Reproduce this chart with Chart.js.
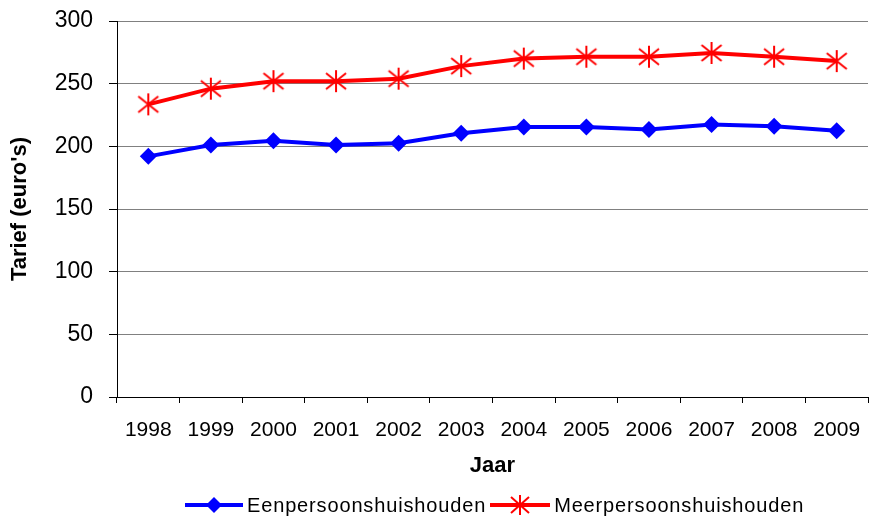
<!DOCTYPE html>
<html>
<head>
<meta charset="utf-8">
<script src="https://cdn.jsdelivr.net/npm/chart.js@4.4.0/dist/chart.umd.min.js"></script>
<style>
  html, body { margin: 0; padding: 0; background: #fff; }
  #wrap { position: relative; width: 869px; height: 519px; }
  #legend {
    position: absolute; left: 185px; top: 493px; height: 24px;
    display: flex; align-items: center;
    font-family: "Liberation Sans", Arial, sans-serif; font-size: 20px; letter-spacing: 0.85px; color: #000;
  }
  #legend svg { display: block; }
  #legend .txt { margin-left: 4px; margin-right: 4px; }
</style>
</head>
<body>
<div id="wrap">
  <canvas id="chart" width="869" height="519"></canvas>
  <div id="legend">
    <svg width="58" height="20"><line x1="0" y1="10" x2="58" y2="10" stroke="#0000ff" stroke-width="4"/><polygon points="29,2 37,10 29,18 21,10" fill="#0000ff"/></svg>
    <span class="txt">Eenpersoonshuishouden</span>
    <svg width="60" height="22"><line x1="0" y1="11" x2="60" y2="11" stroke="#ff0000" stroke-width="4"/><g stroke="#ff0000" stroke-width="2"><line x1="30" y1="1" x2="30" y2="21"/><line x1="21" y1="3" x2="39" y2="19"/><line x1="39" y1="3" x2="21" y2="19"/></g></svg>
    <span class="txt">Meerpersoonshuishouden</span>
  </div>
</div>
<script>
// data
const years = ['1998', '1999', '2000', '2001', '2002', '2003', '2004', '2005', '2006', '2007', '2008', '2009'];
const eenpersoons = [192, 201, 204.5, 201, 202.5, 210.5, 215.5, 215.5, 213.5, 217.5, 216, 212.5];
const meerpersoons = [233.5, 246, 252, 252, 254, 264, 270, 271.5, 271.5, 274.5, 271.5, 268];
const yMin = 0, yMax = 300, yStep = 50;

const FONT = '"Liberation Sans", Arial, sans-serif';

// asterisk-like star marker (vertical line + X)
function makeStar(color) {
  const c = document.createElement('canvas');
  c.width = 24; c.height = 24;
  const g = c.getContext('2d');
  g.strokeStyle = color;
  g.lineWidth = 2;
  g.beginPath();
  g.moveTo(12, 1); g.lineTo(12, 23);
  g.moveTo(2, 4); g.lineTo(22, 20);
  g.moveTo(22, 4); g.lineTo(2, 20);
  g.stroke();
  return c;
}

new Chart(document.getElementById('chart'), {
  type: 'line',
  data: {
    labels: years,
    datasets: [
      {
        label: 'Eenpersoonshuishouden',
        data: eenpersoons,
        borderColor: '#0000ff',
        backgroundColor: '#0000ff',
        borderWidth: 4,
        pointStyle: 'rectRot',
        pointRadius: 8.5,
        pointBorderWidth: 0,
        tension: 0
      },
      {
        label: 'Meerpersoonshuishouden',
        data: meerpersoons,
        borderColor: '#ff0000',
        backgroundColor: '#ff0000',
        borderWidth: 4,
        pointStyle: makeStar('#ff0000'),
        pointRadius: 11,
        tension: 0
      }
    ]
  },
  options: {
    responsive: false,
    animation: false,
    devicePixelRatio: 1,
    layout: { autoPadding: false, padding: { left: 0, right: 1, top: 21, bottom: 40 } },
    plugins: {
      legend: { display: false },
      tooltip: { enabled: false }
    },
    scales: {
      x: {
        offset: true,
        grid: { offset: true, drawOnChartArea: false, tickLength: 6, tickColor: '#000', color: '#000' },
        border: { color: '#000', width: 1 },
        ticks: { color: '#000', font: { family: FONT, size: 21 }, padding: 15, maxRotation: 0, autoSkip: false },
        title: { display: true, text: 'Jaar', color: '#000', font: { family: FONT, size: 22, weight: 'bold' }, padding: 0 },
        afterFit: function(scale) {
          scale.height = 82;
          scale.paddingLeft = 0;
          scale.paddingRight = 0;
        }
      },
      y: {
        min: yMin,
        max: yMax,
        ticks: { stepSize: yStep, color: '#000', font: { family: FONT, size: 23 }, padding: 16 },
        grid: { color: '#808080', lineWidth: 1, tickLength: 8, tickColor: '#000' },
        border: { color: '#000', width: 1 },
        title: { display: true, text: "Tarief (euro's)", color: '#000', font: { family: FONT, size: 22, weight: 'bold' }, padding: { top: 7, bottom: 0 } },
        afterFit: function(scale) {
          scale.width = 117;
          scale.paddingTop = 0;
          scale.paddingBottom = 0;
        }
      }
    }
  }
});
</script>
</body>
</html>
